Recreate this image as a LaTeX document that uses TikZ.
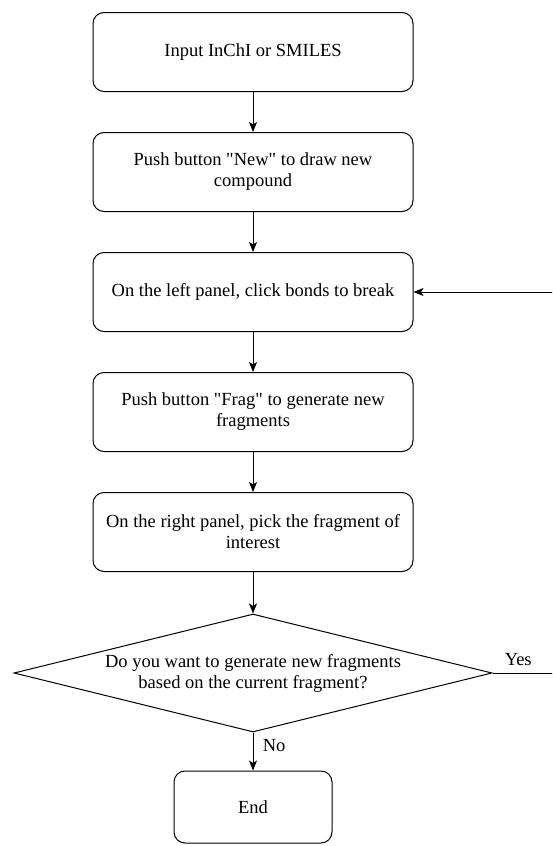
\documentclass[tikz,border=0pt]{standalone}
\usepackage{fontspec}
\setmainfont{Liberation Serif}[Ligatures=TeXOff]
\usepackage{tikz}
\usetikzlibrary{arrows.meta,shapes.geometric}
\tikzset{
  >={Stealth[length=10pt,width=8pt,inset=2.5pt]},
  flowbox/.style={rounded corners=11pt,draw=black,line width=1pt,
                  fill=white,align=center,text=black,
                  minimum width=320pt,minimum height=79pt,inner sep=2pt},
  endbox/.style={flowbox,minimum width=158pt,minimum height=72pt},
  decisionnode/.style={diamond,draw=black,line width=1pt,fill=white,
                       align=center,text=black,aspect=4,inner sep=0pt,
                       minimum width=478pt,minimum height=118pt},
  flowarrow/.style={->,line width=1pt,draw=black},
  looparrow/.style={->,line width=1pt,draw=black},
}

\begin{document}
\begin{tikzpicture}[x=1pt,y=1pt,font=\fontsize{18.5}{21}\selectfont]
  % page frame, same size as the reference
  \clip (0,0) rectangle (552,-846);
  % the five steps, top to bottom
  \node[flowbox] (input) at (253,-52) {Input InChI or SMILES};
  \node[flowbox] (newcpd) at (253,-172)
    {Push button "New" to draw new\\compound};
  \node[flowbox] (bonds) at (253,-292)
    {On the left panel, click bonds to break};
  \node[flowbox] (frag) at (253,-412)
    {Push button "Frag" to generate new\\fragments};
  \node[flowbox] (pick) at (253,-532)
    {On the right panel, pick the fragment of\\interest};
  % question and end
  \node[decisionnode] (ask) at (253,-673)
    {Do you want to generate new fragments\\based on the current fragment?};
  \node[endbox] (done) at (253,-807) {End};
  \coordinate (loopside) at (566,0);
  \draw[flowarrow] (input) -- (newcpd);
  \draw[flowarrow] (newcpd) -- (bonds);
  \draw[flowarrow] (bonds) -- (frag);
  \draw[flowarrow] (frag) -- (pick);
  \draw[flowarrow] (pick) -- (ask);
  \draw[flowarrow] (ask.south) -- node[pos=0.33,right=6pt] {No} (done.north);
  % back to the left panel when the answer is yes
  \draw[looparrow] (ask.east) -- node[pos=0.35,above=3pt] {Yes} (ask.east -| loopside)
    -- (loopside |- bonds.east) -- (bonds.east);
\end{tikzpicture}
\end{document}
